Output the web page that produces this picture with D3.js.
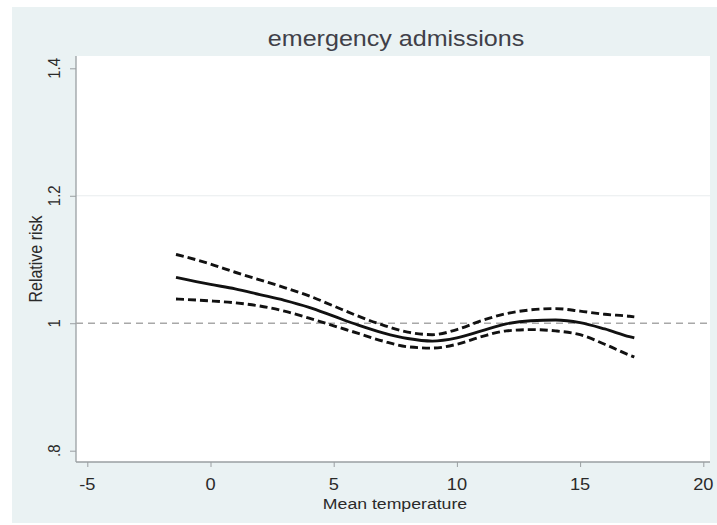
<!DOCTYPE html>
<html>
<head>
<meta charset="utf-8">
<script src="https://cdn.jsdelivr.net/npm/d3@7"></script>
<style>
  body { margin: 0; background: #fff; }
  text { font-family: "Liberation Sans", Arial, sans-serif; fill: #2a2a2a; }
</style>
</head>
<body>
<svg width="717" height="525"></svg>
<script>
// Data: relative risk of emergency admissions by mean temperature
const temps = [-1.4, 0, 1, 2, 3, 4, 5, 6, 7, 8, 9, 10, 11, 12, 13, 14, 15, 16, 17, 17.2];
const rr    = [1.072, 1.061, 1.054, 1.045, 1.036, 1.025, 1.011, 0.997, 0.985, 0.976, 0.972, 0.977, 0.988, 0.999, 1.004, 1.005, 1.001, 0.991, 0.979, 0.977];
const upper = [1.108, 1.093, 1.080, 1.068, 1.056, 1.043, 1.027, 1.011, 0.997, 0.986, 0.982, 0.990, 1.004, 1.015, 1.021, 1.023, 1.019, 1.014, 1.011, 1.010];
const lower = [1.038, 1.035, 1.032, 1.027, 1.019, 1.008, 0.996, 0.984, 0.972, 0.963, 0.961, 0.967, 0.979, 0.988, 0.990, 0.988, 0.982, 0.967, 0.950, 0.947];

const xTicks = [-5, 0, 5, 10, 15, 20];
const yTicks = [0.8, 1, 1.2, 1.4];
const yTickLabels = [".8", "1", "1.2", "1.4"];

const svg = d3.select("svg");
const stretch = 1.14; // the picture's text is a bit wider than the font

// Outer (graph) region and plot region
svg.append("rect").attr("x", 12).attr("y", 7).attr("width", 705).attr("height", 516).attr("fill", "#eaf2f3");
const plot = { left: 76, right: 710, top: 56, bottom: 462 };
svg.append("rect").attr("x", plot.left).attr("y", plot.top)
    .attr("width", plot.right - plot.left).attr("height", plot.bottom - plot.top).attr("fill", "#fff");

const x = d3.scaleLinear().domain([-5, 20]).range([87.3, 703.3]);
const y = d3.scaleLinear().domain([0.8, 1.4]).range([450.7, 68.3]);

// Grid line (Stata draws only the inner ones)
svg.selectAll(".grid")
    .data(yTicks.filter(d => d > 0.8 && d < 1.4 && d !== 1))
    .enter().append("line")
    .attr("x1", plot.left).attr("x2", plot.right)
    .attr("y1", d => y(d)).attr("y2", d => y(d))
    .attr("stroke", "#e8ecee").attr("stroke-width", 1);

// Axes
const xAxis = svg.append("g")
    .attr("transform", `translate(0,${plot.bottom})`)
    .call(d3.axisBottom(x).tickValues(xTicks).tickSize(5).tickSizeOuter(0).tickFormat(""));
xAxis.select(".domain").attr("d", `M${plot.left},0H${plot.right}`);
const yAxis = svg.append("g")
    .attr("transform", `translate(${plot.left},0)`)
    .call(d3.axisLeft(y).tickValues(yTicks).tickSize(6).tickSizeOuter(0).tickFormat(""));
yAxis.select(".domain").attr("d", `M0,${plot.top}V${plot.bottom}`);
svg.selectAll(".domain").attr("stroke", "#9a9fa2").attr("stroke-width", 1.3);
svg.selectAll(".tick line").attr("stroke", "#9a9fa2");

// Tick labels
svg.selectAll(".xlab")
    .data(xTicks)
    .enter().append("text")
    .attr("transform", d => `translate(${x(d)},490) scale(${stretch},1)`)
    .attr("text-anchor", "middle")
    .style("font-size", "16px")
    .text(d => d);

svg.selectAll(".ylab")
    .data(yTicks)
    .enter().append("text")
    .attr("transform", d => `translate(60,${y(d)}) scale(${stretch},1) rotate(-90)`)
    .attr("text-anchor", "middle")
    .style("font-size", "15px")
    .text((d, i) => yTickLabels[i]);

// Titles
svg.append("text")
    .attr("transform", `translate(396,46) scale(${stretch},1)`)
    .attr("text-anchor", "middle")
    .style("font-size", "22px").style("fill", "#404048")
    .text("emergency admissions");

svg.append("text")
    .attr("transform", `translate(395,509) scale(${stretch},1)`)
    .attr("text-anchor", "middle")
    .style("font-size", "15.5px")
    .text("Mean temperature");

svg.append("text")
    .attr("transform", `translate(42,${(plot.top + plot.bottom) / 2}) scale(${stretch},1) rotate(-90)`)
    .attr("text-anchor", "middle")
    .style("font-size", "16px")
    .text("Relative risk");

// Reference line at RR = 1
svg.append("line")
    .attr("x1", plot.left).attr("x2", plot.right)
    .attr("y1", y(1)).attr("y2", y(1))
    .attr("stroke", "#a8a8a8").attr("stroke-width", 1.3)
    .attr("stroke-dasharray", "7,5");

// Curves
const line = d3.line()
    .x(d => x(d[0]))
    .y(d => y(d[1]))
    .curve(d3.curveMonotoneX);

const series = [
    { values: upper, dash: "8,4" },
    { values: lower, dash: "8,4" },
    { values: rr, dash: null }
];

svg.selectAll(".curve")
    .data(series)
    .enter().append("path")
    .attr("d", s => line(temps.map((t, i) => [t, s.values[i]])))
    .attr("fill", "none")
    .attr("stroke", "#111")
    .attr("stroke-width", 2.9)
    .attr("stroke-dasharray", s => s.dash);
</script>
</body>
</html>
